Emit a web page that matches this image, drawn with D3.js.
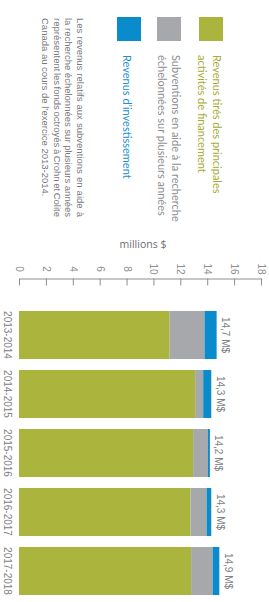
<!DOCTYPE html>
<html>
<head>
<meta charset="utf-8">
<script src="https://cdn.jsdelivr.net/npm/d3@7"></script>
<style>
  body { margin: 0; background: #fff; }
  svg { display: block; }
  text { font-family: "Liberation Sans", Arial, sans-serif; }
</style>
</head>
<body>
<svg width="269" height="602"></svg>
<script>
// fiscal years and stacked revenue (millions $)
var years = ['2013-2014', '2014-2015', '2015-2016', '2016-2017', '2017-2018'];
var financement = [11.2, 13.1, 12.95, 12.75, 12.8];
var subventions = [2.6, 0.6, 1.1, 1.2, 1.6];
var investissement = [0.9, 0.6, 0.15, 0.35, 0.5];
var totalLabels = ['14,7 M$', '14,3 M$', '14,2 M$', '14,3 M$', '14,9 M$'];
var ticks = [0, 2, 4, 6, 8, 10, 12, 14, 16, 18];

var seriesNames = [
    ['Revenus tirés des principales', 'activités de financement'],
    ['Subventions en aide à la recherche', 'échelonnées sur plusieurs années'],
    ['Revenus d\u2019investissement']
];
var colors = ['#abb43c', '#a7a8ab', '#0a8bcb'];
var textColors = ['#a3ad33', '#8c8d90', '#1b8fd0'];
var note = [
    'Les revenus relatifs aux subventions en aide à',
    'la recherche échelonnées sur plusieurs années',
    'représentent les fonds octroyés à Crohn et Colite',
    'Canada au cours de l\u2019exercice 2013-2014.'
];

var svg = d3.select('svg');

var data = years.map(function(y, i) {
    return { year: y, a: financement[i], b: subventions[i], c: investissement[i] };
});
var stack = d3.stack().keys(['a', 'b', 'c']);
var series = stack(data);

var x = d3.scaleLinear().domain([0, 18]).range([19, 261]);
var y = d3.scaleBand().domain(years).range([305.5, 600.5])
    .paddingInner(0.186).paddingOuter(0.093);

// axis (line + ticks), labels rotated like the rest of the chart
var axis = svg.append('g')
    .attr('transform', 'translate(0,278.5)')
    .call(d3.axisBottom(x).tickValues(ticks).tickSize(7).tickSizeOuter(0));
axis.select('.domain').attr('stroke', '#8d8e90');
axis.selectAll('line').attr('stroke', '#8d8e90');
axis.selectAll('text')
    .attr('y', null).attr('dy', null)
    .attr('transform', 'translate(0,-9.5) rotate(90)')
    .attr('text-anchor', 'middle')
    .attr('dominant-baseline', 'central')
    .attr('fill', '#8d8e90')
    .style('font-size', '10px');

svg.append('text')
    .attr('x', 143).attr('y', 244)
    .attr('text-anchor', 'middle')
    .attr('dominant-baseline', 'central')
    .attr('fill', '#6d6e71')
    .style('font-family', '"Open Sans", sans-serif')
    .style('font-size', '10.5px')
    .text('millions $');

// bars
svg.append('g').selectAll('g')
    .data(series)
    .enter().append('g')
    .attr('fill', function(d, i) { return colors[i]; })
    .selectAll('rect')
    .data(function(d) { return d; })
    .enter().append('rect')
    .attr('x', function(d) { return x(d[0]); })
    .attr('width', function(d) { return x(d[1]) - x(d[0]); })
    .attr('y', function(d) { return y(d.data.year); })
    .attr('height', y.bandwidth());

// year labels
svg.append('g').selectAll('text')
    .data(years)
    .enter().append('text')
    .attr('transform', function(d) {
        return 'translate(7.5,' + (y(d) + y.bandwidth() / 2) + ') rotate(90)';
    })
    .attr('text-anchor', 'middle')
    .attr('dominant-baseline', 'central')
    .attr('fill', '#808184')
    .style('font-size', '10px')
    .text(function(d) { return d; });

// totals
svg.append('g').selectAll('text')
    .data(data)
    .enter().append('text')
    .attr('transform', function(d, i) {
        var tx = x(d.a + d.b + d.c) + 9;
        return 'translate(' + tx + ',' + (y(d.year) + y.bandwidth() / 2) + ') rotate(90)';
    })
    .attr('text-anchor', 'middle')
    .attr('dominant-baseline', 'central')
    .attr('fill', '#808184')
    .style('font-size', '10px')
    .text(function(d, i) { return totalLabels[i]; });

// legend
var swatchX = [199, 157, 117];
var lineX = [[217, 202], [176, 162], [127]];
var legend = svg.append('g');
seriesNames.forEach(function(lines, i) {
    legend.append('rect')
        .attr('x', swatchX[i]).attr('y', 17)
        .attr('width', 24).attr('height', 24)
        .attr('fill', colors[i]);
    lines.forEach(function(t, j) {
        legend.append('text')
            .attr('transform', 'translate(' + lineX[i][j] + ',55) rotate(90)')
            .attr('dominant-baseline', 'central')
            .attr('fill', textColors[i])
            .style('font-family', 'Lato, sans-serif')
            .style('font-size', '11px')
            .text(t);
    });
});

// note, justified
var noteX = [80, 68.5, 57, 45.5];
var noteWidth = 199;
note.forEach(function(t, j) {
    var txt = svg.append('text')
        .attr('transform', 'translate(' + noteX[j] + ',18) rotate(90)')
        .attr('dominant-baseline', 'central')
        .attr('fill', '#77787b')
        .style('font-family', '"Liberation Sans Narrow", "Liberation Sans", sans-serif')
        .style('font-size', '9.5px')
        .text(t);
    if (j < note.length - 1) {
        var words = t.split(' ').length - 1;
        var extra = noteWidth - txt.node().getComputedTextLength();
        txt.attr('word-spacing', extra / words);
    }
});
</script>
</body>
</html>
